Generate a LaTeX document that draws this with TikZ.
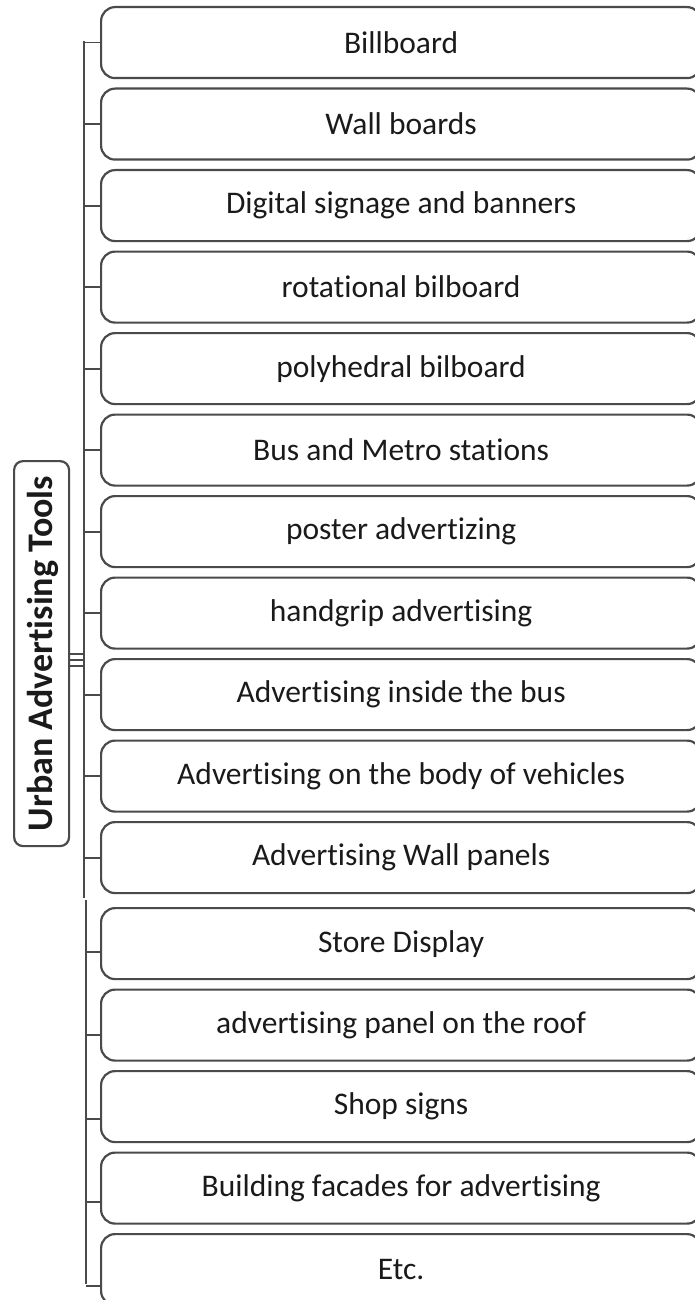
\documentclass[tikz,border=0pt]{standalone}
\usepackage{fontspec}
\setmainfont{Carlito}[Ligatures=NoCommon]
\definecolor{edge}{HTML}{4A4A4A}
\definecolor{txt}{HTML}{1A1A1A}
\tikzset{
  item/.style={draw=edge, line width=2.2pt, rounded corners=14pt, minimum width=600pt, minimum height=71pt, anchor=north west, inner sep=0pt, text=txt, font=\fontsize{31.5}{36}\selectfont},
  rootbox/.style={draw=edge, line width=2.2pt, rounded corners=9pt, minimum width=55pt, minimum height=385pt, anchor=north west, inner sep=0pt},
  link/.style={draw=edge, line width=1.8pt}
}
\begin{document}
\begin{tikzpicture}[x=1pt,y=-1pt]
\useasboundingbox (0,0) rectangle (694,1300);
\node[rootbox] (root) at (13,460) {};
\node[rotate=90, text=txt, font=\fontsize{36}{40}\selectfont\bfseries] at ([xshift=1pt]root.center) {Urban Advertising Tools};
% upper boxes
\foreach \t [count=\i from 0] in {Billboard,Wall boards,Digital signage and banners,rotational bilboard,polyhedral bilboard,Bus and Metro stations,poster advertizing,handgrip advertising,Advertising inside the bus,Advertising on the body of vehicles,Advertising Wall panels}{
  \node[item] (b\i) at (100,{6+81.5*\i}) {\t};
}
% lower boxes
\foreach \t [count=\i from 11] in {Store Display,advertising panel on the roof,Shop signs,Building facades for advertising,Etc.}{
  \node[item] (b\i) at (100,{907+81.5*(\i-11)}) {\t};
}
% trunks
\coordinate (t1a) at (84,41.5);
\coordinate (t1b) at (84,898);
\coordinate (t2a) at (86,900);
\coordinate (t2b) at (86,1284);
\draw[link] (t1a) -- (t1b);
\draw[link] (t2a) -- (t2b);
\foreach \i in {0,...,10}{
  \draw[link] (b\i.west -| t1a) -- (b\i.west);
}
\foreach \i/\o in {11/8,12/10,13/12.5,14/14,15/16}{
  \draw[link] ([yshift=-\o pt]b\i.west -| t2a) -- ([yshift=-\o pt]b\i.west);
}
% root to trunk
\foreach \d in {-6,0,6}{
  \draw[link] ([yshift=\d pt]root.east |- 0,660) -- ([yshift=\d pt]t1a |- 0,660);
}
\end{tikzpicture}
\end{document}
